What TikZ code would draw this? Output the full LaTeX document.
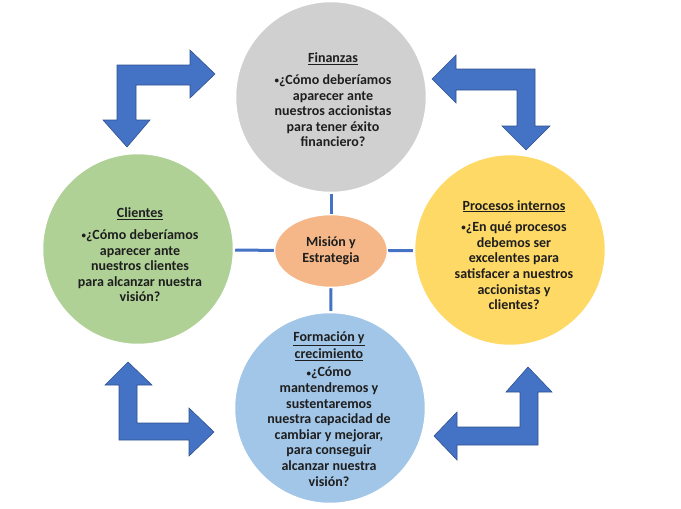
\documentclass[tikz,border=0pt]{standalone}
\usepackage{fontspec}
\setmainfont{Carlito}
\usetikzlibrary{shapes.geometric}
\definecolor{arrblue}{HTML}{4472C4}
\definecolor{arrdark}{HTML}{2F528F}
\definecolor{cgray}{HTML}{D0D0D0}
\definecolor{cgreen}{HTML}{AFD196}
\definecolor{cyellow}{HTML}{FFD966}
\definecolor{cblue}{HTML}{A2C6E8}
\definecolor{cpeach}{HTML}{F5B788}
\definecolor{txt}{HTML}{1E1E1E}
\newcommand{\bul}{{\fontsize{9}{9}\selectfont\raisebox{0.8pt}{•}}}
\tikzset{
  bigcircle/.style={circle, minimum size=192pt, inner sep=0pt, draw=white, line width=2.5pt},
  txtbox/.style={align=center, text=txt, font=\bfseries\fontsize{14}{15.6}\selectfont, inner sep=0pt},
  link/.style={draw=arrblue, line width=3pt},
  bentarrow/.style={fill=arrblue, draw=arrdark, line width=0.6pt, line join=miter}
}
\begin{document}
\begin{tikzpicture}[x=1pt,y=-1pt]
\useasboundingbox (0,0) rectangle (681,509);
% bent arrows
\path[bentarrow] (117,65) -- (190,65) -- (190,50) -- (215,74) -- (190,98) -- (190,85) -- (136,85) -- (136,120) -- (150,120) -- (127,147) -- (103,120) -- (117,120) -- cycle;
\path[bentarrow] (535,69) -- (535,126) -- (550,126) -- (526,150) -- (502,126) -- (517,126) -- (517,90) -- (456,90) -- (456,103) -- (432,79) -- (456,55) -- (456,69) -- cycle;
\path[bentarrow] (119,440) -- (119,385) -- (105,385) -- (128,362) -- (152,385) -- (137,385) -- (137,423) -- (189,423) -- (189,408) -- (214,432) -- (189,456) -- (189,440) -- cycle;
\path[bentarrow] (538,445) -- (457,445) -- (457,460) -- (434,436) -- (457,412) -- (457,427) -- (520,427) -- (520,392) -- (506,392) -- (528,367) -- (552,392) -- (538,392) -- cycle;
% circles
\node[bigcircle, fill=cgray] (fin) at (331,97) {};
\node[bigcircle, fill=cgreen] (cli) at (138,249) {};
\node[bigcircle, fill=cyellow] (pro) at (510,250) {};
\node[bigcircle, fill=cblue] (for) at (330,408) {};
\node[ellipse, minimum width=113pt, minimum height=73pt, inner sep=0pt, fill=cpeach, draw=white, line width=1.5pt] (mid) at (331,251) {};
% connectors
\draw[link] (mid) -- (fin);
\draw[link] (mid) -- (cli);
\draw[link] (mid) -- (pro);
\draw[link] (mid.south) -- (for);
% texts
\node[txtbox] (tfin) at (333,100) {\underline{Finanzas}\\[6pt]\bul¿Cómo deberíamos\\aparecer ante\\nuestros accionistas\\para tener éxito\\financiero?};
\node[txtbox] (tcli) at (140,255) {\underline{Clientes}\\[6pt]\bul¿Cómo deberíamos\\aparecer ante\\nuestros clientes\\para alcanzar nuestra\\visión?};
\node[txtbox] (tpro) at (514,255) {\underline{Procesos internos}\\[6pt]\bul¿En qué procesos\\debemos ser\\excelentes para\\satisfacer a nuestros\\accionistas y\\clientes?};
\node[txtbox] (tfor) at (329,409) {\underline{Formación y}\\[1pt]\underline{crecimiento}\\[3pt]\bul¿Cómo\\mantendremos y\\sustentaremos\\nuestra capacidad de\\cambiar y mejorar,\\para conseguir\\alcanzar nuestra\\visión?};
\node[txtbox] (tmid) at (331,251) {Misión y\\Estrategia};
\end{tikzpicture}
\end{document}
